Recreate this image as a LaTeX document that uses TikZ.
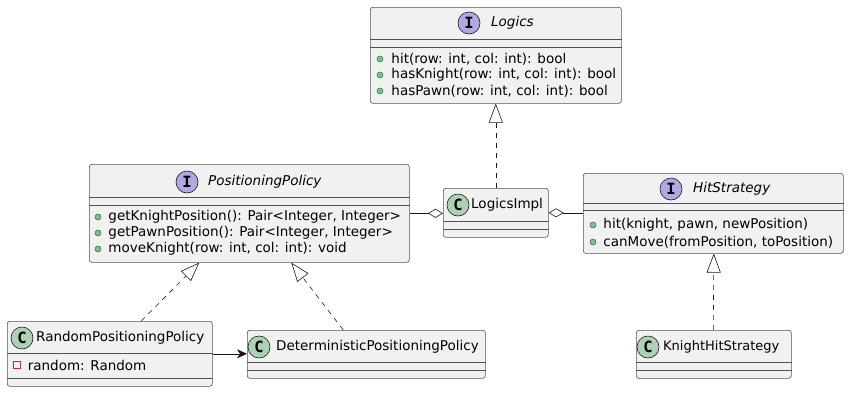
\documentclass[tikz,border=0pt]{standalone}
\usepackage{fontspec}
\setmainfont{DejaVu Sans}
\newfontfamily\iconfont{DejaVu Sans Mono}
\usetikzlibrary{arrows.meta,positioning,calc}

\definecolor{boxfill}{HTML}{F1F1F1}
\definecolor{boxline}{HTML}{181818}
\definecolor{ifacefill}{HTML}{B4A7E5}
\definecolor{classfill}{HTML}{ADD1B2}
\definecolor{pubfill}{HTML}{84BE84}
\definecolor{publine}{HTML}{038048}
\definecolor{privline}{HTML}{C82930}

\begin{document}
\begin{tikzpicture}[x=1pt, y=-1pt,
  box/.style={draw=boxline!75, fill=boxfill, rounded corners=2.5pt, line width=0.6pt,
    anchor=north west, inner sep=0pt},
  sep/.style={draw=boxline!75, line width=0.6pt},
  icon/.style={circle, draw=boxline, line width=0.6pt, minimum size=22pt, inner sep=0pt,
    font=\iconfont\bfseries\fontsize{15.5}{15.5}\selectfont},
  iicon/.style={icon, fill=ifacefill},
  cicon/.style={icon, fill=classfill},
  iname/.style={inner sep=0pt, anchor=west, font=\itshape\fontsize{13.5}{16}\selectfont},
  cname/.style={inner sep=0pt, anchor=west, font=\fontsize{13.5}{16}\selectfont},
  member/.style={inner sep=0pt, anchor=west, font=\fontsize{13.5}{16}\selectfont},
  pub/.style={circle, draw=publine, fill=pubfill, minimum size=6pt, inner sep=0pt, line width=0.5pt},
  priv/.style={rectangle, draw=privline, minimum size=6.5pt, inner sep=0pt, line width=0.7pt},
  realize/.style={draw=boxline, line width=0.6pt, dash pattern=on 5pt off 5pt,
    -{Triangle[open, length=19pt, width=14pt, line width=0.6pt]}},
  aggr/.style={draw=boxline, line width=0.6pt},
  assoc/.style={draw=boxline, line width=0.6pt, -{Stealth[length=10pt, width=9pt, inset=3pt]}}
]
  \useasboundingbox (0,0) rectangle (850,392);

  % class boxes
  \node[box, minimum width=251pt, minimum height=96pt] (logics) at (370,7) {};
  \node[box, minimum width=320pt, minimum height=98pt] (pp) at (89,164) {};
  \node[box, minimum width=105pt, minimum height=49pt] (impl) at (443,188) {};
  \node[box, minimum width=260pt, minimum height=80pt] (hs) at (583,173) {};
  \node[box, minimum width=205pt, minimum height=65pt] (rpp) at (7,321) {};
  \node[box, minimum width=238pt, minimum height=48pt] (dpp) at (247,330) {};
  \node[box, minimum width=155pt, minimum height=48pt] (khs) at (636,330) {};

  % compartment lines
  \foreach \n/\a/\b in {logics/32/40, pp/33/41, impl/33/41, hs/30/37,
    rpp/32/57, dpp/32/40, khs/32/40} {
    \draw[sep] ([yshift=-\a pt]\n.north west) -- ([yshift=-\a pt]\n.north east);
    \draw[sep] ([yshift=-\b pt]\n.north west) -- ([yshift=-\b pt]\n.north east);
  }

  % headers
  \node[iicon] (logics-icon) at (469,23) {I};
  \node[iname] (logics-name) at (491,23) {Logics};
  \node[iicon] (pp-icon) at (187,182) {I};
  \node[iname] (pp-name) at (208,182) {PositioningPolicy};
  \node[cicon] (impl-icon) at (458,205) {C};
  \node[cname] (impl-name) at (471,205) {LogicsImpl};
  \node[iicon] (hs-icon) at (671,189) {I};
  \node[iname] (hs-name) at (693,189) {HitStrategy};
  \node[cicon] (rpp-icon) at (22,338) {C};
  \node[cname] (rpp-name) at (36,338) {RandomPositioningPolicy};
  \node[cicon] (dpp-icon) at (259,347) {C};
  \node[cname] (dpp-name) at (276,347) {DeterministicPositioningPolicy};
  \node[cicon] (khs-icon) at (648,347) {C};
  \node[cname, font=\fontsize{13}{16}\selectfont] (khs-name) at (663,347) {KnightHitStrategy};

  % members
  \foreach \txt [count=\i] in {{hit(row: int, col: int): bool},
      {hasKnight(row: int, col: int): bool}, {hasPawn(row: int, col: int): bool}} {
    \node[pub] (logics-b\i) at (380,{43+16*\i}) {};
    \node[member, right=8pt of logics-b\i] (logics-m\i) {\txt};
  }
  \foreach \txt [count=\i] in {{getKnightPosition(): Pair<Integer, Integer>},
      {getPawnPosition(): Pair<Integer, Integer>}, {moveKnight(row: int, col: int): void}} {
    \node[pub] (pp-b\i) at (98,{201+16*\i}) {};
    \node[member, right=7pt of pp-b\i] (pp-m\i) {\txt};
  }
  \foreach \txt [count=\i] in {{hit(knight, pawn, newPosition)},
      {canMove(fromPosition, toPosition)}} {
    \node[pub] (hs-b\i) at (593,{208+17*\i}) {};
    \node[member, right=7pt of hs-b\i] (hs-m\i) {\txt};
  }
  \node[priv] (rpp-b1) at (17,365) {};
  \node[member, right=7pt of rpp-b1] (rpp-m1) {random: Random};

  % relations
  \draw[realize] (impl.north) -- (logics.south);
  \draw[realize] ([xshift=31.5pt]rpp.north) -- ([xshift=-50pt]pp.south);
  \draw[realize] ([xshift=-23pt]dpp.north) -- ([xshift=42pt]pp.south);
  \draw[realize] ([xshift=-0.5pt]khs.north) -- (khs.north |- hs.south);
  \draw[aggr, -{Diamond[open, length=15pt, width=9pt, line width=0.6pt]}] (pp.east) -- (pp.east -| impl.west);
  \draw[aggr, {Diamond[open, length=15pt, width=9pt, line width=0.6pt]}-] (impl.east) -- (impl.east -| hs.west);
  \draw[assoc] (rpp.east) -- (rpp.east -| dpp.west);
\end{tikzpicture}
\end{document}
